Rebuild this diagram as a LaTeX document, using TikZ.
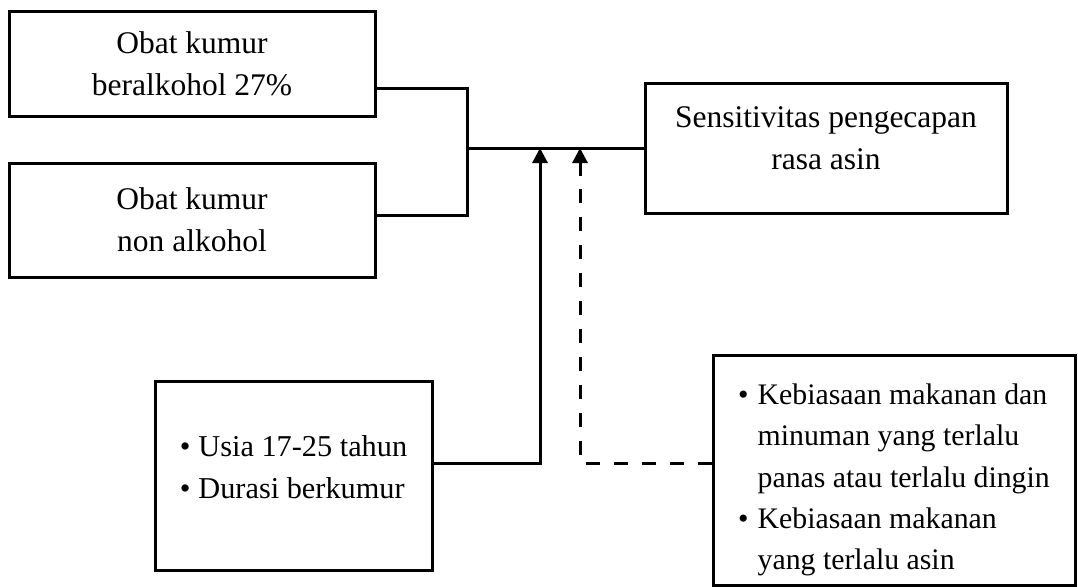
\documentclass[tikz,border=0pt]{standalone}
\usepackage{fontspec}
\setmainfont{Liberation Serif}
\usetikzlibrary{arrows.meta}
\begin{document}
\begin{tikzpicture}[x=1pt,y=-1pt,
  box/.style={draw,line width=3pt,inner sep=0pt,align=center},
  big/.style={font=\fontsize{31.5}{42}\selectfont},
  conn/.style={line width=3pt},
  tip/.style={-{Triangle[length=15pt,width=15pt]}},
  dashline/.style={line width=3pt,dash pattern=on 14pt off 14pt}]
\useasboundingbox (0,0) rectangle (1078,586);
\node[box,big,minimum width=366pt,minimum height=104pt] (A) at (192,64) {Obat kumur\\beralkohol 27\%};
\node[box,big,minimum width=366pt,minimum height=114pt] (B) at (192,220) {Obat kumur\\non alkohol};
\node[box,big,minimum width=362pt,minimum height=130pt] (C) at (826,148) {\smash{\raisebox{1.5pt}{\begin{tabular}{@{}c@{}}Sensitivitas pengecapan\\rasa asin\end{tabular}}}};
\node[box,font=\fontsize{30.3}{42}\selectfont,minimum width=277pt,minimum height=189pt] (D) at (293.5,475.5) {%
  \smash{\begin{tabular}{@{}l@{\hspace{8pt}}l@{}}
  \textbullet & Usia 17-25 tahun\\
  \textbullet & Durasi berkumur
  \end{tabular}}};
\node[box,font=\fontsize{29.8}{41.3}\selectfont,minimum width=362pt,minimum height=230pt] (E) at (894,470) {%
  \smash{\raisebox{-15pt}{\begin{tabular}{@{}l@{\hspace{9pt}}l@{}}
  \textbullet & Kebiasaan makanan dan\\
   & minuman yang terlalu\\
   & panas atau terlalu dingin\\
  \textbullet & Kebiasaan makanan\\
   & yang terlalu asin
  \end{tabular}}}};
\coordinate (jt) at (467,88);
\coordinate (jb) at (467,215);
\coordinate (jm) at (467,148);
\coordinate (s1) at (540,463);
\coordinate (s2) at (580,463);
\coordinate (d2) at (580,176);
\draw[conn] ([yshift=-24pt]A.east) -- (jt) -- (jb) -- ([yshift=5pt]B.east);
\draw[conn] (jm) -- (C.west);
\draw[conn,tip] ([yshift=12.5pt]D.east) -- (s1) -- (s1 |- jm);
\draw[conn,tip] (d2) -- (s2 |- jm);
\draw[dashline] ([yshift=7pt]E.west) -- (s2) -- (d2);
\end{tikzpicture}
\end{document}
